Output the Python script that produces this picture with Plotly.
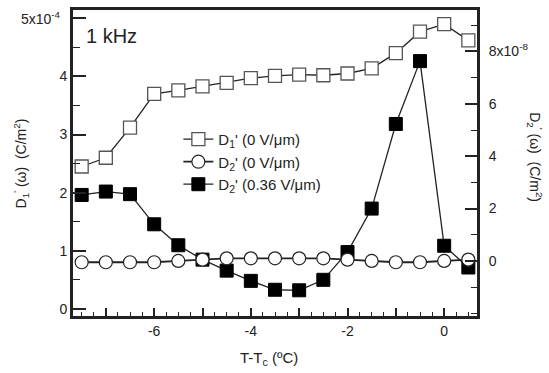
import plotly.graph_objects as go

# Data
T = [-7.5, -7.0, -6.5, -6.0, -5.5, -5.0, -4.5, -4.0, -3.5, -3.0, -2.5, -2.0, -1.5, -1.0, -0.5, 0.0, 0.5]
D1_0V = [2.45e-4, 2.60e-4, 3.12e-4, 3.70e-4, 3.76e-4, 3.83e-4, 3.89e-4, 3.97e-4, 4.01e-4, 4.03e-4,
         4.02e-4, 4.05e-4, 4.14e-4, 4.40e-4, 4.77e-4, 4.90e-4, 4.62e-4]
D2_0V = [-0.05e-8, -0.05e-8, -0.05e-8, -0.05e-8, 0.0, 0.05e-8, 0.1e-8, 0.1e-8, 0.1e-8, 0.1e-8,
         0.1e-8, 0.05e-8, 0.0, -0.05e-8, -0.05e-8, 0.0, 0.05e-8]
D2_036V = [2.52e-8, 2.65e-8, 2.55e-8, 1.40e-8, 0.60e-8, 0.05e-8, -0.37e-8, -0.76e-8, -1.10e-8, -1.12e-8,
           -0.72e-8, 0.34e-8, 2.00e-8, 5.23e-8, 7.63e-8, 0.58e-8, -0.25e-8]

left_tickvals = [0, 1e-4, 2e-4, 3e-4, 4e-4]
left_ticktext = ["0", "1", "2", "3", "4"]
left_top_val = 5e-4
left_top_text = "5x10<sup>-4</sup>"
right_tickvals = [0, 2e-8, 4e-8, 6e-8, 8e-8]
right_ticktext = ["0", "2", "4", "6", "8x10<sup>-8</sup>"]
x_tickvals = [-7, -6, -5, -4, -3, -2, -1, 0]
x_ticktext = ["", "-6", "", "-4", "", "-2", "", "0"]

FONT = "Liberation Sans, Arial, sans-serif"
INK = "#222222"

fig = go.Figure()
fig.add_trace(go.Scatter(
    x=T, y=D1_0V, mode="lines+markers", name="D<sub>1</sub>' (0 V/μm)",
    line=dict(color=INK, width=1.3),
    marker=dict(symbol="square", size=13, color="white", line=dict(color="#555555", width=1.3)),
    yaxis="y", legendrank=1))
fig.add_trace(go.Scatter(
    x=T, y=D2_036V, mode="lines+markers", name="D<sub>2</sub>' (0.36 V/μm)",
    line=dict(color=INK, width=1.3),
    marker=dict(symbol="square", size=13, color="black", line=dict(color="black", width=1)),
    yaxis="y2", legendrank=3))
fig.add_trace(go.Scatter(
    x=T, y=D2_0V, mode="lines+markers", name="D<sub>2</sub>' (0 V/μm)",
    line=dict(color=INK, width=1.8),
    marker=dict(symbol="circle", size=13, color="white", line=dict(color=INK, width=1.2)),
    yaxis="y2", legendrank=2))

fig.update_layout(
    width=549, height=373,
    margin=dict(l=72, r=71, t=9, b=56, autoexpand=False),
    paper_bgcolor="white", plot_bgcolor="white",
    font=dict(family=FONT, size=14, color=INK),
    showlegend=True,
    legend=dict(x=0.262, y=0.63, xanchor="left", yanchor="top",
                bgcolor="rgba(0,0,0,0)", font=dict(size=15, family=FONT, color=INK),
                tracegroupgap=0, itemwidth=30),
    xaxis=dict(range=[-7.7, 0.7], tickvals=x_tickvals, ticktext=x_ticktext,
               ticks="inside", ticklen=9, tickwidth=1.5, tickcolor=INK,
               minor=dict(dtick=0.25, tick0=0, ticks="inside", ticklen=5, tickwidth=1.3, tickcolor=INK),
               showline=True, linecolor=INK, linewidth=2, mirror=True, automargin=False,
               showgrid=False, zeroline=False, tickfont=dict(size=14)),
    yaxis=dict(range=[-0.14e-4, 5.16e-4], tickvals=left_tickvals + [left_top_val],
               ticktext=left_ticktext + [""],
               ticks="inside", ticklen=14, tickwidth=1.5, tickcolor=INK, automargin=False,
               minor=dict(dtick=0.5e-4, tick0=0, ticks="inside", ticklen=8, tickwidth=1.3, tickcolor=INK),
               showline=True, linecolor=INK, linewidth=2,
               showgrid=False, zeroline=False, tickfont=dict(size=14)),
    yaxis2=dict(range=[-2.14e-8, 9.62e-8], overlaying="y", side="right", anchor="x",
                tickvals=right_tickvals, ticktext=right_ticktext, automargin=False,
                ticks="inside", ticklen=13, tickwidth=1.5, tickcolor=INK, ticklabelstandoff=6,
                minor=dict(dtick=1e-8, tick0=0, ticks="inside", ticklen=7, tickwidth=1.3, tickcolor=INK),
                showline=True, linecolor=INK, linewidth=2,
                showgrid=False, zeroline=False, tickfont=dict(size=14)),
    shapes=[dict(type="rect", xref="paper", yref="paper", x0=0, y0=0, x1=1, y1=1,
                 line=dict(color=INK, width=2), fillcolor="rgba(0,0,0,0)", layer="above")],
    annotations=[
        dict(text=left_top_text, x=-0.022, y=left_top_val, xref="paper", yref="y",
             xanchor="right", yanchor="middle", showarrow=False, font=dict(size=14, family=FONT, color=INK)),
        dict(text="1 kHz", x=0.03, y=0.912, xref="paper", yref="paper", xanchor="left", yanchor="middle",
             showarrow=False, font=dict(size=20, family=FONT, color=INK)),
        dict(text="T-T<sub>c</sub> (ºC)", x=0.485, y=-0.097, xref="paper", yref="paper",
             xanchor="center", yanchor="top", showarrow=False, font=dict(size=15, family=FONT, color=INK)),
        dict(text="D<sub>1</sub><sup>'</sup> (ω)  (C/m<sup>2</sup>)", x=-0.095, y=0.5, xref="paper", yref="paper",
             xanchor="right", yanchor="middle", textangle=-90, showarrow=False,
             font=dict(size=14, family=FONT, color=INK)),
        dict(text="D<sub>2</sub><sup>'</sup> (ω)  (C/m<sup>2</sup>)", x=1.11, y=0.52, xref="paper", yref="paper",
             xanchor="left", yanchor="middle", textangle=90, showarrow=False,
             font=dict(size=14, family=FONT, color=INK)),
    ],
)

fig.write_html("out.html", config={"displayModeBar": False},
               post_script="document.body.style.margin='0';document.body.style.padding='0';")
